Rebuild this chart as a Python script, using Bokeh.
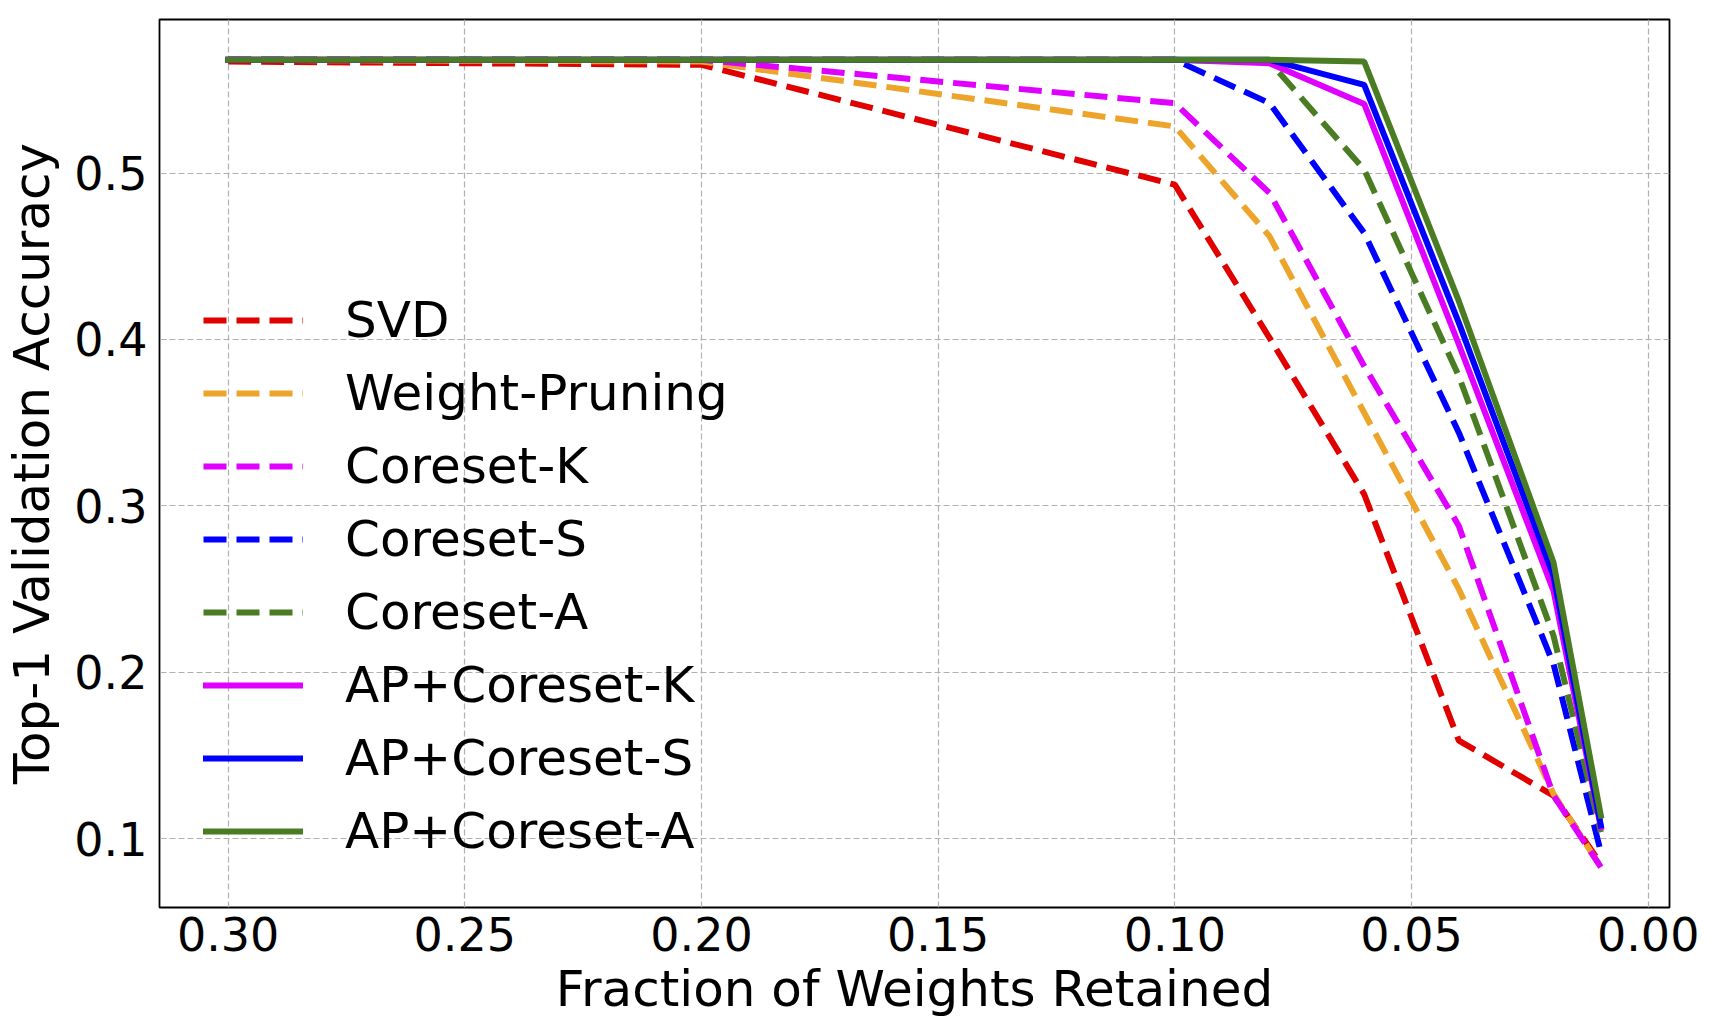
from bokeh.plotting import figure
from bokeh.models import Range1d, FixedTicker, NumeralTickFormatter, Legend, LegendItem
from bokeh.embed import file_html
from bokeh.resources import INLINE

# ---- data ----
x_frac = [0.30, 0.20, 0.10, 0.08, 0.06, 0.04, 0.02, 0.01]
svd = [0.567, 0.565, 0.493, 0.401, 0.307, 0.159, 0.126, 0.085]
weight_pruning = [0.568, 0.567, 0.528, 0.462, 0.356, 0.250, 0.127, 0.083]
coreset_k = [0.568, 0.568, 0.542, 0.488, 0.384, 0.288, 0.126, 0.083]
coreset_s = [0.568, 0.568, 0.568, 0.542, 0.464, 0.344, 0.205, 0.092]
coreset_a = [0.568, 0.568, 0.568, 0.567, 0.502, 0.378, 0.222, 0.104]
ap_coreset_k = [0.568, 0.568, 0.568, 0.566, 0.5415, 0.397, 0.249, 0.107]
ap_coreset_s = [0.568, 0.568, 0.568, 0.568, 0.553, 0.410, 0.258, 0.108]
ap_coreset_a = [0.568, 0.568, 0.568, 0.568, 0.567, 0.423, 0.266, 0.114]

names = ["SVD", "Weight-Pruning", "Coreset-K", "Coreset-S", "Coreset-A",
         "AP+Coreset-K", "AP+Coreset-S", "AP+Coreset-A"]
series = [svd, weight_pruning, coreset_k, coreset_s, coreset_a,
          ap_coreset_k, ap_coreset_s, ap_coreset_a]
colors = ["#E00000", "#ECA52A", "#E000FF", "#0000FF", "#4A7D23",
          "#E000FF", "#0000FF", "#4A7D23"]
dashed = [True, True, True, True, True, False, False, False]

x_ticks = [0.00, 0.05, 0.10, 0.15, 0.20, 0.25, 0.30]
y_ticks = [0.1, 0.2, 0.3, 0.4, 0.5]

FONT = "DejaVu Sans"
TICK_FS = "46px"
LABEL_FS = "50px"

# ranges with 5% margins (like matplotlib autoscale)
xmin, xmax = min(x_frac), max(x_frac)
xm = 0.05 * (xmax - xmin)
all_y = [v for s in series for v in s]
ymin, ymax = min(all_y), max(all_y)
ym = 0.05 * (ymax - ymin)

p = figure(width=1716, height=1034, output_backend="svg", toolbar_location=None,
           x_range=Range1d(xmax + xm, xmin - xm), y_range=Range1d(ymin - ym, ymax + ym),
           min_border_left=159, min_border_right=47, min_border_top=19, min_border_bottom=127)
p.background_fill_color = "white"
p.border_fill_color = "white"
p.outline_line_color = "black"
p.outline_line_width = 1.8

for ax in (p.xaxis, p.yaxis):
    ax.axis_line_alpha = 0
    ax.major_tick_out = 0
    ax.major_tick_in = 0
    ax.minor_tick_out = 0
    ax.minor_tick_in = 0
    ax.major_label_text_font = FONT
    ax.major_label_text_font_size = TICK_FS
    ax.major_label_text_color = "black"
    ax.axis_label_text_font = FONT
    ax.axis_label_text_font_size = LABEL_FS
    ax.axis_label_text_font_style = "normal"
    ax.axis_label_text_color = "black"

p.xaxis.ticker = FixedTicker(ticks=x_ticks)
p.yaxis.ticker = FixedTicker(ticks=y_ticks)
p.xaxis.formatter = NumeralTickFormatter(format="0.00")
p.yaxis.formatter = NumeralTickFormatter(format="0.0")
p.xaxis.axis_label = "Fraction of Weights Retained"
p.yaxis.axis_label = "Top-1 Validation Accuracy"
p.xaxis.major_label_standoff = 9
p.yaxis.major_label_standoff = 12
p.xaxis.axis_label_standoff = 6
p.yaxis.axis_label_standoff = 10

for g in (p.xgrid, p.ygrid):
    g.grid_line_color = "#b0b0b0"
    g.grid_line_dash = "6 3"
    g.grid_line_width = 1.2

items = []
for name, ys, c, d in zip(names, series, colors, dashed):
    if d:
        r = p.line(x_frac, ys, line_color=c, line_width=6, line_dash="23 10")
    else:
        r = p.line(x_frac, ys, line_color=c, line_width=6, line_cap="square")
    items.append(LegendItem(label=name, renderers=[r]))

legend = Legend(items=items, location=(44, 47))
legend.background_fill_alpha = 0
legend.border_line_alpha = 0
legend.padding = 0
legend.margin = 0
legend.spacing = 15
legend.glyph_width = 100
legend.glyph_height = 58
legend.label_height = 58
legend.label_standoff = 42
legend.label_text_font = FONT
legend.label_text_font_size = LABEL_FS
legend.label_text_color = "black"
p.add_layout(legend)

open("out.html", "w").write(file_html(p, INLINE))
